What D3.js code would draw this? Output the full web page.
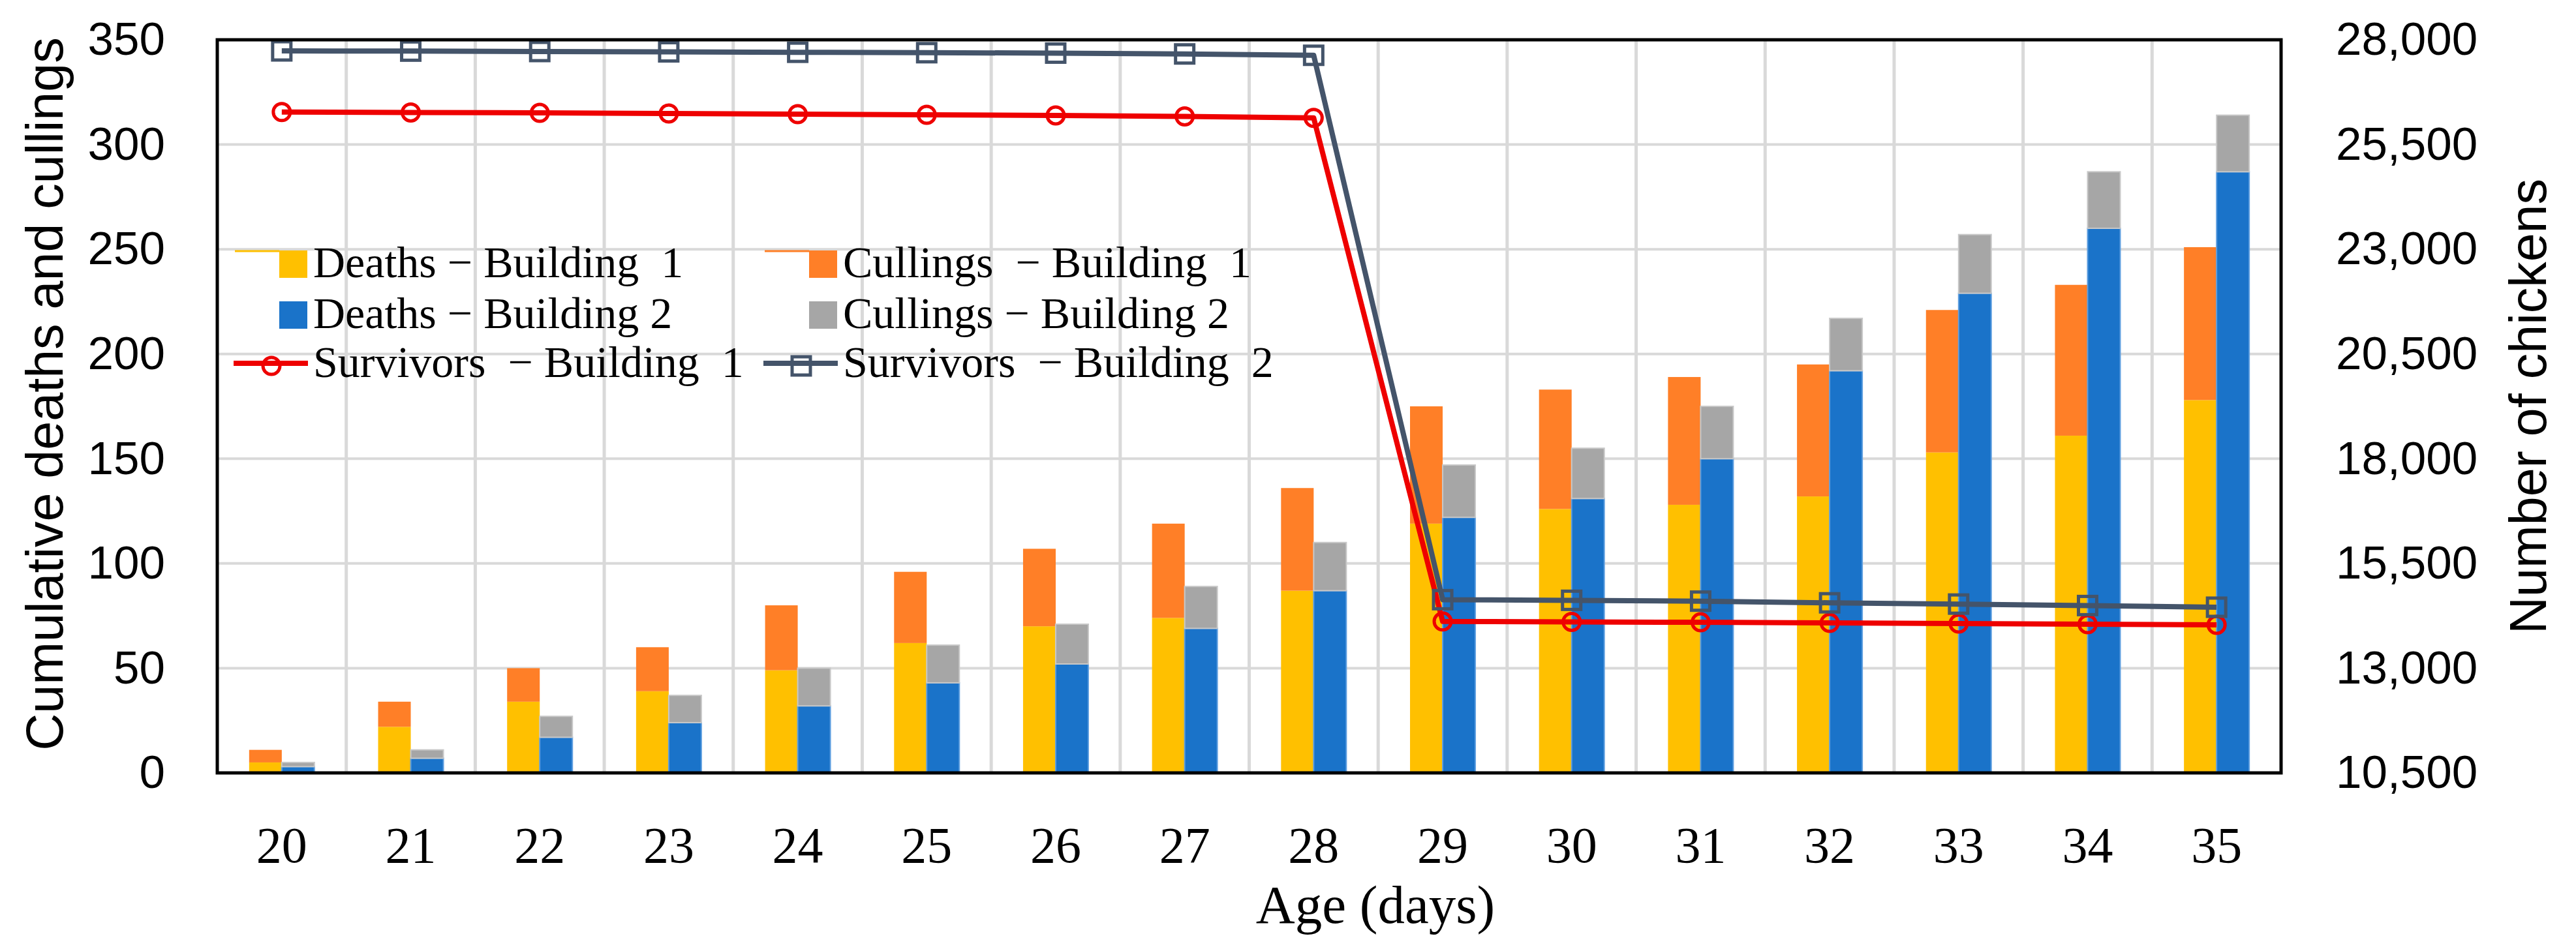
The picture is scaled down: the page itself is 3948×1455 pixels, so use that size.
<!DOCTYPE html>
<html>
<head>
<meta charset="utf-8">
<script src="https://cdn.jsdelivr.net/npm/d3@7"></script>
<style>
  body { margin: 0; background: #fff; }
</style>
</head>
<body>
<div class="canvas"></div>
<script>
// values
const days = [20, 21, 22, 23, 24, 25, 26, 27, 28, 29, 30, 31, 32, 33, 34, 35]
const deathsB1 = [5, 22, 34, 39, 49, 62, 70, 74, 87, 119, 126, 128, 132, 153, 161, 178]
const cullingsB1 = [6, 12, 16, 21, 31, 34, 37, 45, 49, 56, 57, 61, 63, 68, 72, 73]
const deathsB2 = [3, 7, 17, 24, 32, 43, 52, 69, 87, 122, 131, 150, 192, 229, 260, 287]
const cullingsB2 = [2, 4, 10, 13, 18, 18, 19, 20, 23, 25, 24, 25, 25, 28, 27, 27]
const survivorsB1 = [26275, 26265, 26255, 26240, 26225, 26210, 26195, 26170, 26135,
  14115, 14105, 14095, 14080, 14065, 14050, 14035]
const survivorsB2 = [27735, 27730, 27720, 27712, 27702, 27692, 27682, 27662, 27630,
  14635, 14620, 14600, 14560, 14530, 14495, 14455]
const leftTicks = [0, 50, 100, 150, 200, 250, 300, 350]
const rightTicks = [10500, 13000, 15500, 18000, 20500, 23000, 25500, 28000]

const colors = {
  deathsB1: '#ffc000',
  cullingsB1: '#ff7f27',
  deathsB2: '#1a73c9',
  cullingsB2: '#a6a6a6',
  survivorsB1: '#ee0000',
  survivorsB2: '#44546a'
}

const serif = "'Liberation Serif', 'DejaVu Serif', serif"
const sans = "'Liberation Sans', Arial, sans-serif"

const size = {width: 3948, height: 1455}
const margin = {top: 61, right: 452, bottom: 270, left: 333}
const width = size.width - margin.left - margin.right
const height = size.height - margin.top - margin.bottom

const svg = d3.select('.canvas')
  .append('svg')
  .attr('width', size.width)
  .attr('height', size.height)

const container = svg.append('g')
  .attr('transform', `translate(${margin.left}, ${margin.top})`)

const x = d3.scaleBand()
  .domain(days)
  .range([0, width])

const yLeft = d3.scaleLinear()
  .domain([0, 350])
  .range([height, 0])

const yRight = d3.scaleLinear()
  .domain([10500, 28000])
  .range([height, 0])

const barWidth = x.bandwidth() * 0.253
const center = day => x(day) + x.bandwidth() / 2

// grid
container.append('g')
  .selectAll('line')
  .data(leftTicks.slice(1))
  .join('line')
  .attr('x1', 0)
  .attr('x2', width)
  .attr('y1', d => yLeft(d))
  .attr('y2', d => yLeft(d))
  .attr('stroke', '#d9d9d9')
  .attr('stroke-width', 4)

container.append('g')
  .selectAll('line')
  .data(days.slice(1))
  .join('line')
  .attr('x1', d => x(d))
  .attr('x2', d => x(d))
  .attr('y1', 0)
  .attr('y2', height)
  .attr('stroke', '#d9d9d9')
  .attr('stroke-width', 5)

// stacked bars, building 1 left of centre line, building 2 right
const stacks = [
  {base: deathsB1, top: cullingsB1, colors: [colors.deathsB1, colors.cullingsB1], offset: -0.5, edge: null},
  {base: deathsB2, top: cullingsB2, colors: [colors.deathsB2, colors.cullingsB2], offset: 0.5, edge: ['#5f9fe0', '#c8c8c8']}
]

stacks.forEach(stack => {
  const rows = days.map((day, i) => ({day, a: stack.base[i], b: stack.top[i]}))
  const group = container.append('g')
  const left = d => center(d.day) + stack.offset * barWidth - barWidth / 2

  group.selectAll('rect.base')
    .data(rows)
    .join('rect')
    .attr('class', 'base')
    .attr('x', left)
    .attr('width', barWidth)
    .attr('y', d => yLeft(d.a))
    .attr('height', d => yLeft(0) - yLeft(d.a))
    .attr('fill', stack.colors[0])
    .attr('stroke', stack.edge ? stack.edge[0] : 'none')
    .attr('stroke-width', 2)

  group.selectAll('rect.top')
    .data(rows)
    .join('rect')
    .attr('class', 'top')
    .attr('x', left)
    .attr('width', barWidth)
    .attr('y', d => yLeft(d.a + d.b))
    .attr('height', d => yLeft(d.a) - yLeft(d.a + d.b))
    .attr('fill', stack.colors[1])
    .attr('stroke', stack.edge ? stack.edge[1] : 'none')
    .attr('stroke-width', 2)
})

// survivors lines on the right axis
const line = d3.line()
  .x(d => center(d.day))
  .y(d => yRight(d.value))

const survivorSeries = [
  {values: survivorsB1, color: colors.survivorsB1, marker: 'circle'},
  {values: survivorsB2, color: colors.survivorsB2, marker: 'square'}
]

const drawMarker = (sel, marker, color) => {
  if (marker === 'circle') {
    sel.append('circle')
      .attr('r', 13)
      .attr('fill', 'none')
      .attr('stroke', color)
      .attr('stroke-width', 5)
  } else {
    sel.append('rect')
      .attr('x', -14)
      .attr('y', -14)
      .attr('width', 28)
      .attr('height', 28)
      .attr('fill', 'none')
      .attr('stroke', color)
      .attr('stroke-width', 5)
  }
}

survivorSeries.forEach(series => {
  const rows = days.map((day, i) => ({day, value: series.values[i]}))
  container.append('path')
    .datum(rows)
    .attr('fill', 'none')
    .attr('stroke', series.color)
    .attr('stroke-width', 8)
    .attr('stroke-linejoin', 'round')
    .attr('d', line)

  container.append('g')
    .selectAll('g')
    .data(rows)
    .join('g')
    .attr('transform', d => `translate(${center(d.day)}, ${yRight(d.value)})`)
    .each(function () { drawMarker(d3.select(this), series.marker, series.color) })
})

// frame
container.append('rect')
  .attr('width', width)
  .attr('height', height)
  .attr('fill', 'none')
  .attr('stroke', '#000')
  .attr('stroke-width', 5)

// axes
const leftAxis = container.append('g')
  .call(d3.axisLeft(yLeft).tickValues(leftTicks).tickSize(0).tickPadding(80))
const rightAxis = container.append('g')
  .attr('transform', `translate(${width}, 0)`)
  .call(d3.axisRight(yRight).tickValues(rightTicks).tickSize(0).tickPadding(84).tickFormat(d3.format(',')))
const bottomAxis = container.append('g')
  .attr('transform', `translate(0, ${height})`)
  .call(d3.axisBottom(x).tickSize(0))

;[leftAxis, rightAxis, bottomAxis].forEach(axis => axis.select('.domain').remove())
;[leftAxis, rightAxis].forEach(axis => axis.selectAll('text')
  .attr('font-family', sans)
  .attr('font-size', 71)
  .attr('fill', '#000'))
bottomAxis.selectAll('text')
  .attr('font-family', serif)
  .attr('font-size', 78)
  .attr('fill', '#000')
  .attr('y', 137)
  .attr('dy', 0)

// titles
svg.append('text')
  .attr('transform', 'translate(96, 604) rotate(-90)')
  .attr('text-anchor', 'middle')
  .attr('font-family', sans)
  .attr('font-size', 79)
  .text('Cumulative deaths and cullings')

svg.append('text')
  .attr('transform', 'translate(3902, 623) rotate(-90)')
  .attr('text-anchor', 'middle')
  .attr('font-family', sans)
  .attr('font-size', 79)
  .text('Number of chickens')

svg.append('text')
  .attr('x', 2108)
  .attr('y', 1415)
  .attr('text-anchor', 'middle')
  .attr('font-family', serif)
  .attr('font-size', 83)
  .text('Age (days)')

// legend
const legendItems = [
  {label: 'Deaths − Building  1', color: colors.deathsB1, kind: 'bar', col: 0, row: 0},
  {label: 'Cullings  − Building  1', color: colors.cullingsB1, kind: 'bar', col: 1, row: 0},
  {label: 'Deaths − Building 2', color: colors.deathsB2, kind: 'box', col: 0, row: 1},
  {label: 'Cullings − Building 2', color: colors.cullingsB2, kind: 'box', col: 1, row: 1},
  {label: 'Survivors  − Building  1', color: colors.survivorsB1, kind: 'circle', col: 0, row: 2},
  {label: 'Survivors  − Building  2', color: colors.survivorsB2, kind: 'square', col: 1, row: 2}
]
const legendCols = [480, 1292]
const legendRows = [404, 482, 557]

const legend = svg.append('g')
legendItems.forEach(item => {
  const tx = legendCols[item.col]
  const cy = legendRows[item.row]
  const g = legend.append('g')
  if (item.kind === 'bar' || item.kind === 'box') {
    if (item.kind === 'bar') {
      g.append('line')
        .attr('x1', tx - 120)
        .attr('x2', tx - 52)
        .attr('y1', cy - 19)
        .attr('y2', cy - 19)
        .attr('stroke', item.color)
        .attr('stroke-width', 3)
    }
    g.append('rect')
      .attr('x', tx - 52)
      .attr('y', cy - 20)
      .attr('width', 43)
      .attr('height', 42)
      .attr('fill', item.color)
  } else {
    g.append('line')
      .attr('x1', tx - 122)
      .attr('x2', tx - 8)
      .attr('y1', cy)
      .attr('y2', cy)
      .attr('stroke', item.color)
      .attr('stroke-width', 8)
    const m = g.append('g').attr('transform', `translate(${tx - 64}, ${cy + 4})`)
    drawMarker(m, item.kind, item.color)
  }
  g.append('text')
    .attr('x', tx)
    .attr('y', cy + 21)
    .attr('font-family', serif)
    .attr('font-size', 68)
    .attr('xml:space', 'preserve')
    .style('white-space', 'pre')
    .text(item.label)
})
</script>
</body>
</html>
